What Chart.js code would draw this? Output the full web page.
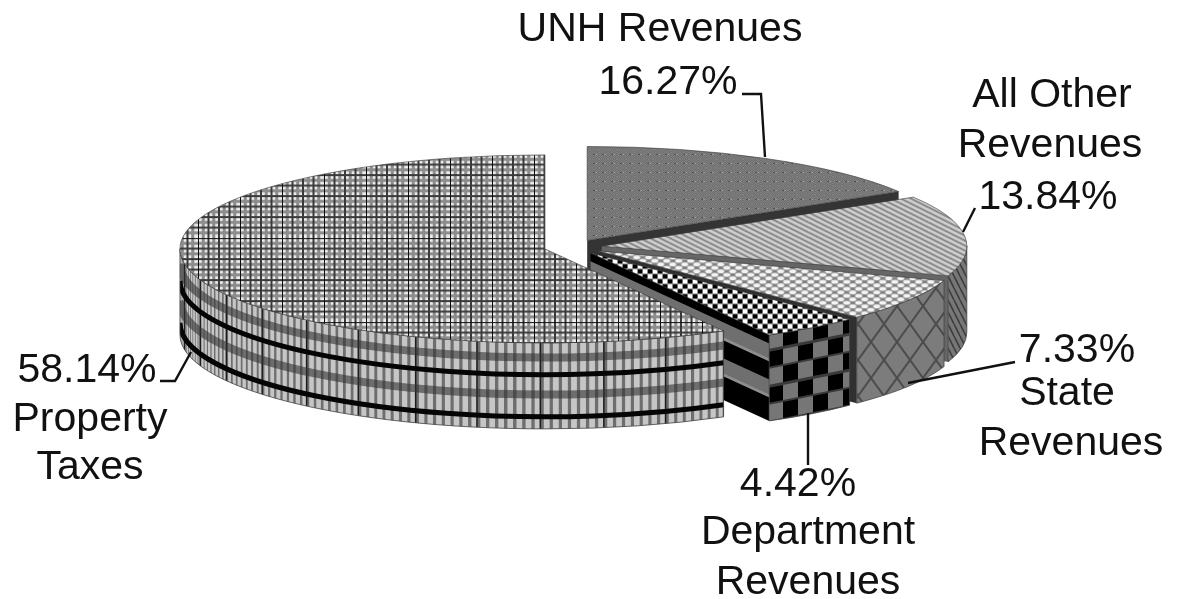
<!DOCTYPE html>
<html><head><meta charset="utf-8">
<style>html,body{margin:0;padding:0;background:#fff;overflow:hidden}canvas{display:block;filter:blur(.45px)}</style>
<script src="https://cdn.jsdelivr.net/npm/chart.js@4"></script>
</head><body><canvas id="c" width="1177" height="599"></canvas>
<script>
const categories = ['UNH Revenues','All Other Revenues','State Revenues','Department Revenues','Property Taxes'];
const values = [16.27,13.84,7.33,4.42,58.14];

const SQUASH = 94/365, DEPTH = 86, EXPLODE = 29, FONT = '41px "Liberation Sans", Arial, sans-serif';

function tile(w,h,fn,matrix){
  const t=document.createElement('canvas');t.width=w;t.height=h;
  const g=t.getContext('2d');fn(g,w,h);
  const p=g.createPattern(t,'repeat');
  if(matrix)p.setTransform(matrix);
  return p;
}
const unsquash=new DOMMatrix([1,0,0,1/SQUASH,0,0]);
const rect=(g,c,x,y,w,h)=>{g.fillStyle=c;g.fillRect(x,y,w,h)};
const line=(g,c,lw,x0,y0,x1,y1)=>{g.strokeStyle=c;g.lineWidth=lw;g.beginPath();g.moveTo(x0,y0);g.lineTo(x1,y1);g.stroke()};

const topFaces=[
  tile(9,9,(g,w,h)=>{
    for(let y=0;y<h;y++)for(let x=0;x<w;x++)rect(g,(x+y)%2?'#6c6c6c':'#848484',x,y,1,1);
    rect(g,'#484848',3,4,2,1);rect(g,'#a2a2a2',5,4,2,1);},unsquash),
  tile(10,5,(g,w,h)=>{rect(g,'#cfcfcf',0,0,w,h);
    for(const o of [-5,0,5]) line(g,'#707070',1.5,0,o,10,o+5);},unsquash),
  tile(12,7,(g,w,h)=>{rect(g,'#7f7f7f',0,0,w,h);g.fillStyle='#f4f4f4';
    for(const [x,y] of [[0,0],[12,0],[0,7],[12,7],[6,3.5]]){g.beginPath();g.ellipse(x,y,3.6,2.1,0,0,7);g.fill();}},unsquash),
  tile(10,10,(g,w,h)=>{rect(g,'#9a9a9a',0,0,w,h);
    rect(g,'#000',0,0,5,4);rect(g,'#000',5,5,5,4);rect(g,'#fff',5,0,5,4);rect(g,'#fff',0,5,5,4);},unsquash),
  tile(42,84,(g,w,h)=>{rect(g,'#ececec',0,0,w,h);
    for(let x=0;x<w;x+=10.5){rect(g,'#8c8c8c',x+5.25-1.5,0,3,h);}
    for(let y=0;y<h;y+=10.5){rect(g,'#8c8c8c',0,y+5.25-1.5,w,3);}
    for(let x=0;x<w;x+=10.5){rect(g,'#3a3a3a',x-1,0,2,h);}
    for(let y=0;y<h;y+=10.5){rect(g,'#3a3a3a',0,y-1,w,2);}
    rect(g,'#0c0c0c',0,0,1,h);rect(g,'#0c0c0c',0,0,w,1);},new DOMMatrix([1,0,0,1/SQUASH,478,205]))
];
const wallFaces=[
  null,
  tile(6,12,(g,w,h)=>{rect(g,'#777',0,0,w,h);for(const o of [-6,0,6])line(g,'#3c3c3c',1.5,o,0,o+6,12);}),
  tile(26,36,(g,w,h)=>{rect(g,'#7c7c7c',0,0,w,h);line(g,'#4c4c4c',2,0,0,26,36);line(g,'#4c4c4c',2,26,0,0,36);}),
  tile(30,36,(g,w,h)=>{rect(g,'#767676',0,0,w,h);
    rect(g,'#000',15,0,15,18);rect(g,'#000',0,18,15,18);rect(g,'#3a3a3a',0,16,w,3);rect(g,'#3a3a3a',0,34,w,2);},
    new DOMMatrix([1,-0.2,0,1,768,333])),
  null
];
const cutFaces=[
  '#343434','#666666','#303030',
  tile(20,100,(g,w,h)=>{rect(g,'#000',0,0,w,h);
    for(const y of [8,44]){rect(g,'#6f6f6f',0,y,w,15);rect(g,'#8e8e8e',0,y+15,w,3);}},
    new DOMMatrix([1,0.46,0,1,0,-18.4])),
  null
];

function extrude(ctx,ox,oy,R,t0,t1){
  ctx.beginPath();
  ctx.ellipse(ox,oy,R,R*SQUASH,0,t0,t1);
  ctx.ellipse(ox,oy+DEPTH,R,R*SQUASH,0,t1,t0,true);
  ctx.closePath();
}
function bandedWall(ctx,ox,oy,R,t0,t1){
  ctx.save();extrude(ctx,ox,oy,R,t0,t1);ctx.clip();
  ctx.fillStyle='#b8b8b8';ctx.fill();
  const step=1.43*Math.PI/180;let n=0;
  for(let t=t0;t<t1;t+=step,n++){
    const xa=ox+R*Math.cos(t),xb=ox+R*Math.cos(t+step);
    const w=Math.abs(xa-xb);
    ctx.fillStyle='#c6c6c6';
    ctx.fillRect(Math.min(xa,xb),oy,w,DEPTH+R);
    ctx.fillStyle='#6e6e6e';
    ctx.fillRect(Math.min(xa,xb),oy,w*.38,DEPTH+R);
    if(n%7===0){ctx.fillStyle='#1c1c1c';ctx.fillRect(xa-.75,oy,1.5,DEPTH+R);}
  }
  const bands=[[.17,8,'rgba(50,50,50,.6)'],[.37,5,'#050505'],[.6,8,'rgba(50,50,50,.6)'],[.86,5,'#050505']];
  for(const [f,w,c] of bands){
    ctx.strokeStyle=c;ctx.lineWidth=w;ctx.beginPath();
    ctx.ellipse(ox,oy+DEPTH*f,R,R*SQUASH,0,t0,t1);ctx.stroke();
  }
  ctx.restore();
}

const pie3d={id:'pie3d',
  beforeDatasetDraw(chart,args){
    const ctx=chart.ctx;
    args.meta.data.forEach((arc,i)=>{
      const {x,y,startAngle:s,endAngle:e,outerRadius:R}=arc;
      const mid=(s+e)/2;
      const ox=x+Math.cos(mid)*EXPLODE, oy=y+Math.sin(mid)*EXPLODE*SQUASH;
      ctx.save();
      if(cutFaces[i]&&Math.cos(e)>1e-6){
        const ex=ox+R*Math.cos(e),ey=oy+R*SQUASH*Math.sin(e);
        ctx.beginPath();ctx.moveTo(ox,oy);ctx.lineTo(ex,ey);ctx.lineTo(ex,ey+DEPTH);ctx.lineTo(ox,oy+DEPTH);ctx.closePath();
        ctx.fillStyle=cutFaces[i];ctx.fill();
      }
      const t0=Math.max(s,0),t1=Math.min(e,Math.PI);
      if(t1>t0){
        if(wallFaces[i]){extrude(ctx,ox,oy,R,t0,t1);ctx.fillStyle=wallFaces[i];ctx.fill();}
        else bandedWall(ctx,ox,oy,R,t0,t1);
        extrude(ctx,ox,oy,R,t0,t1);ctx.strokeStyle='#444';ctx.lineWidth=.8;ctx.stroke();
      }
      ctx.translate(ox,oy);ctx.scale(1,SQUASH);ctx.translate(-x,-y);
      arc.draw(ctx);
      ctx.restore();
    });
    return false;
  },
  afterDraw(chart){
    const ctx=chart.ctx,pct=i=>values[i].toFixed(2)+'%';
    const texts=[
      ['UNH Revenues',660,29],[pct(0),668,82],
      ['All Other',1052,95],['Revenues',1050,145],[pct(1),1048,197],
      [pct(2),1077,350],['State',1067,393],['Revenues',1071,443],
      [pct(3),798,484],['Department',808,532],['Revenues',808,582],
      [pct(4),87,370],['Property',90,419],['Taxes',90,467]
    ];
    const leaders=[
      [[742,94],[761,94],[765,157]],
      [[975,208],[963,232]],
      [[1015,362],[908,383]],
      [[808,413],[808,465]],
      [[160,381],[175,381],[191,352]]
    ];
    ctx.save();
    ctx.strokeStyle='#111';ctx.lineWidth=2.4;
    for(const l of leaders){ctx.beginPath();l.forEach((p,k)=>k?ctx.lineTo(p[0],p[1]):ctx.moveTo(p[0],p[1]));ctx.stroke();}
    ctx.fillStyle='#111';ctx.font=FONT;ctx.textAlign='center';ctx.textBaseline='middle';
    for(const [t,x,y] of texts)ctx.fillText(t,x,y+1);
    ctx.restore();
  }
};

new Chart(document.getElementById('c'),{
  type:'pie',
  data:{labels:categories,datasets:[{data:values,backgroundColor:topFaces,borderColor:'#3a3a3a',borderWidth:1,clip:false}]},
  options:{
    responsive:false,animation:false,radius:365,rotation:0,
    layout:{padding:{right:31,bottom:105}},
    events:[],
    plugins:{legend:{display:false},tooltip:{enabled:false}}
  },
  plugins:[pie3d]
});
</script></body></html>
